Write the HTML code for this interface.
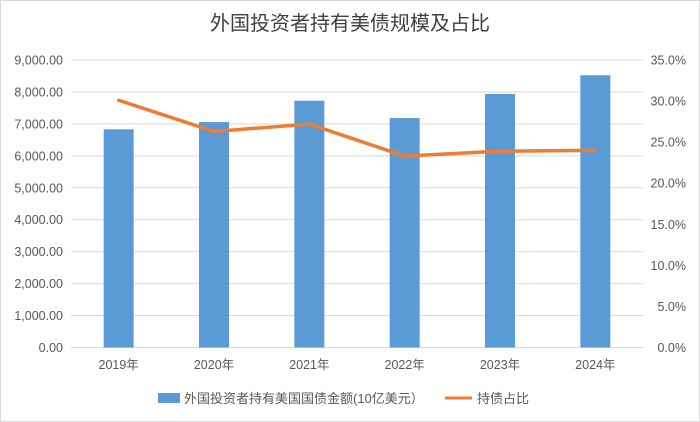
<!DOCTYPE html>
<html><head><meta charset="utf-8"><style>
body{margin:0;background:#fff}
svg{display:block;font-family:"Liberation Sans","Noto Sans CJK SC",sans-serif}
</style></head><body>
<svg id="chart" width="700" height="422">
<rect x="0.5" y="0.5" width="699" height="421" fill="#fff" stroke="#d9d9d9"/>
<text x="350" y="30" text-anchor="middle" font-size="20" fill="#404040">外国投资者持有美债规模及占比</text>
<g id="grid"></g><g id="bars"></g><g id="line"></g><g id="axes"></g>
<g>
<rect x="158" y="393" width="22" height="10" fill="#5b9bd5"/>
<text x="184" y="403" font-size="13" fill="#595959">外国投资者持有美国国债金额(10亿美元）</text>
<line x1="445" y1="398" x2="472" y2="398" stroke="#ed7d31" stroke-width="3"/>
<text x="477" y="403" font-size="13" fill="#595959">持债占比</text>
</g>
</svg>
<script>
const categories=["2019年","2020年","2021年","2022年","2023年","2024年"];
const holdings=[6830,7057,7725,7183,7935,8522];
const shares=[30.1,26.3,27.2,23.3,23.9,24.0];
const leftTicks=[0,1000,2000,3000,4000,5000,6000,7000,8000,9000];
const rightTicks=[0,5,10,15,20,25,30,35];
const NS="http://www.w3.org/2000/svg";
const X0=71,X1=643,Y0=347.5,Y1=60;
const band=(X1-X0)/categories.length;
const xc=i=>X0+band*(i+0.5);
const yl=v=>Y0-(v/9000)*(Y0-Y1);
const yr=v=>Y0-(v/35)*(Y0-Y1);
function mk(tag,attrs,parent,txt){const e=document.createElementNS(NS,tag);for(const k in attrs)e.setAttribute(k,attrs[k]);if(txt!==undefined)e.textContent=txt;document.getElementById(parent).appendChild(e);return e;}
leftTicks.forEach(t=>{
  const g=mk('line',{x1:X0,x2:X1,y1:yl(t),y2:yl(t),stroke:'#d9d9d9','stroke-width':1},'grid');
  
  
  const l=mk('text',{x:63,y:yl(t)+4.5,'text-anchor':'end','font-size':12.5,fill:'#595959'},'axes',t.toLocaleString('en-US',{minimumFractionDigits:2}));
  
  
});
rightTicks.forEach(t=>{
  const l=mk('text',{x:686,y:yr(t)+4.5,'text-anchor':'end','font-size':12.5,fill:'#595959'},'axes',t.toFixed(1)+'%');
  
  
});
categories.forEach((c,i)=>{
  const b=mk('rect',{x:xc(i)-15,y:yl(holdings[i]),width:30,height:Y0-yl(holdings[i]),fill:'#5b9bd5'},'bars');
  
  
  const l=mk('text',{x:xc(i),y:369,'text-anchor':'middle','font-size':12.5,fill:'#595959'},'axes',c);
  
  
});
const p=mk('polyline',{points:shares.map((v,i)=>xc(i)+','+yr(v)).join(' '),fill:'none',stroke:'#ed7d31','stroke-width':3.5,'stroke-linejoin':'round','stroke-linecap':'round'},'line');


</script>
</body></html>
